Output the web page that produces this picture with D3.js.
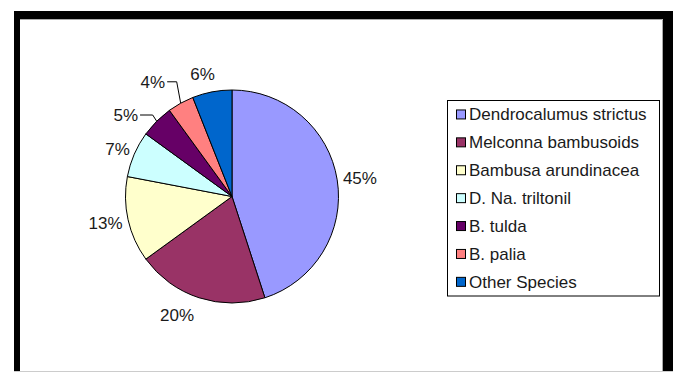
<!DOCTYPE html>
<html>
<head>
<meta charset="utf-8">
<script src="https://cdn.jsdelivr.net/npm/d3@7"></script>
<style>
  html, body { margin: 0; padding: 0; background: #fff; }
  text { font-family: "Liberation Sans", Arial, sans-serif; font-size: 17px; fill: #1a1a1a; }
</style>
</head>
<body>
<div id="chart"></div>
<script>
// data
const species = ["Dendrocalumus strictus", "Melconna bambusoids", "Bambusa arundinacea",
                 "D. Na. triltonil", "B. tulda", "B. palia", "Other Species"];
const shares = [45, 20, 13, 7, 5, 4, 6];
const colors = ["#9999FF", "#993366", "#FFFFCC", "#CCFFFF", "#660066", "#FF8080", "#0066CC"];

const width = 676, height = 376;
const cx = 232, cy = 196.5, radius = 106.5;

// labels the author dragged away from the default spot
const nudged = { "Melconna bambusoids": [-15, 5], "Other Species": [-6, -5],
                 "B. tulda": [-18, 3], "B. palia": [-19, -10] };
const withLeader = new Set(["B. tulda", "B. palia"]);

const svg = d3.select("#chart").append("svg")
    .attr("width", width)
    .attr("height", height);

// frame: black border on top/left/right, none at the bottom
svg.append("rect").attr("x", 14).attr("y", 11).attr("width", 659).attr("height", 360).attr("fill", "#000");
svg.append("rect").attr("x", 20).attr("y", 19).attr("width", 643).attr("height", 352)
    .attr("fill", "#fff");
svg.append("path").attr("d", "M20,19.5H662.5V371").attr("fill", "none").attr("stroke", "#aaa");
svg.append("line").attr("x1", 14).attr("x2", 673).attr("y1", 371.5).attr("y2", 371.5)
    .attr("stroke", "#ccc");

const color = d3.scaleOrdinal().domain(species).range(colors);

const pie = d3.pie().sort(null).value(d => d.value);
const arcs = pie(species.map((s, i) => ({ name: s, value: shares[i] })));
const arc = d3.arc().innerRadius(0).outerRadius(radius);

const g = svg.append("g").attr("transform", `translate(${cx},${cy})`);

g.selectAll("path.slice")
    .data(arcs)
    .enter().append("path")
    .attr("class", "slice")
    .attr("d", arc)
    .attr("fill", d => color(d.data.name))
    .attr("stroke", "#000")
    .attr("stroke-width", 1);

// outside-end labels
const gap = 6, halfH = 7;
arcs.forEach(d => {
    const mid = (d.startAngle + d.endAngle) / 2;
    const ux = Math.sin(mid), uy = -Math.cos(mid);
    const t = g.append("text")
        .attr("text-anchor", "middle")
        .attr("dy", "0.35em")
        .text(d.data.value + "%");
    const halfW = t.node().getComputedTextLength() / 2;
    let x = ux * (radius + gap + halfW), y = uy * (radius + gap + halfH);
    const shift = nudged[d.data.name];
    if (shift) { x += shift[0]; y += shift[1]; }
    if (withLeader.has(d.data.name)) {
        const ex = ux * radius, ey = uy * radius;
        const x0 = x + halfW + 2;
        const x1 = Math.max(x0 + 6, ex - 4);
        g.append("path")
            .attr("d", `M${x0},${y}H${x1}L${ex},${ey}`)
            .attr("fill", "none")
            .attr("stroke", "#000")
            .attr("stroke-width", 1);
    }
    t.attr("x", x).attr("y", y);
});

// legend
const legendLeft = 447.5, legendRight = 659.5;
const rows = d3.scaleBand().domain(species).range([100.5, 295.8]);

svg.append("rect")
    .attr("x", legendLeft).attr("y", 100.5)
    .attr("width", legendRight - legendLeft).attr("height", 195.5)
    .attr("fill", "#fff").attr("stroke", "#000");

const items = svg.selectAll("g.item")
    .data(species)
    .enter().append("g")
    .attr("class", "item")
    .attr("transform", d => `translate(0,${rows(d) + rows.bandwidth() / 2})`);

items.append("rect")
    .attr("x", 456.5).attr("y", -4.5)
    .attr("width", 9).attr("height", 9)
    .attr("fill", d => color(d))
    .attr("stroke", "#000");

items.append("text")
    .attr("x", 469)
    .attr("dy", "0.35em")
    .text(d => d);
</script>
</body>
</html>
